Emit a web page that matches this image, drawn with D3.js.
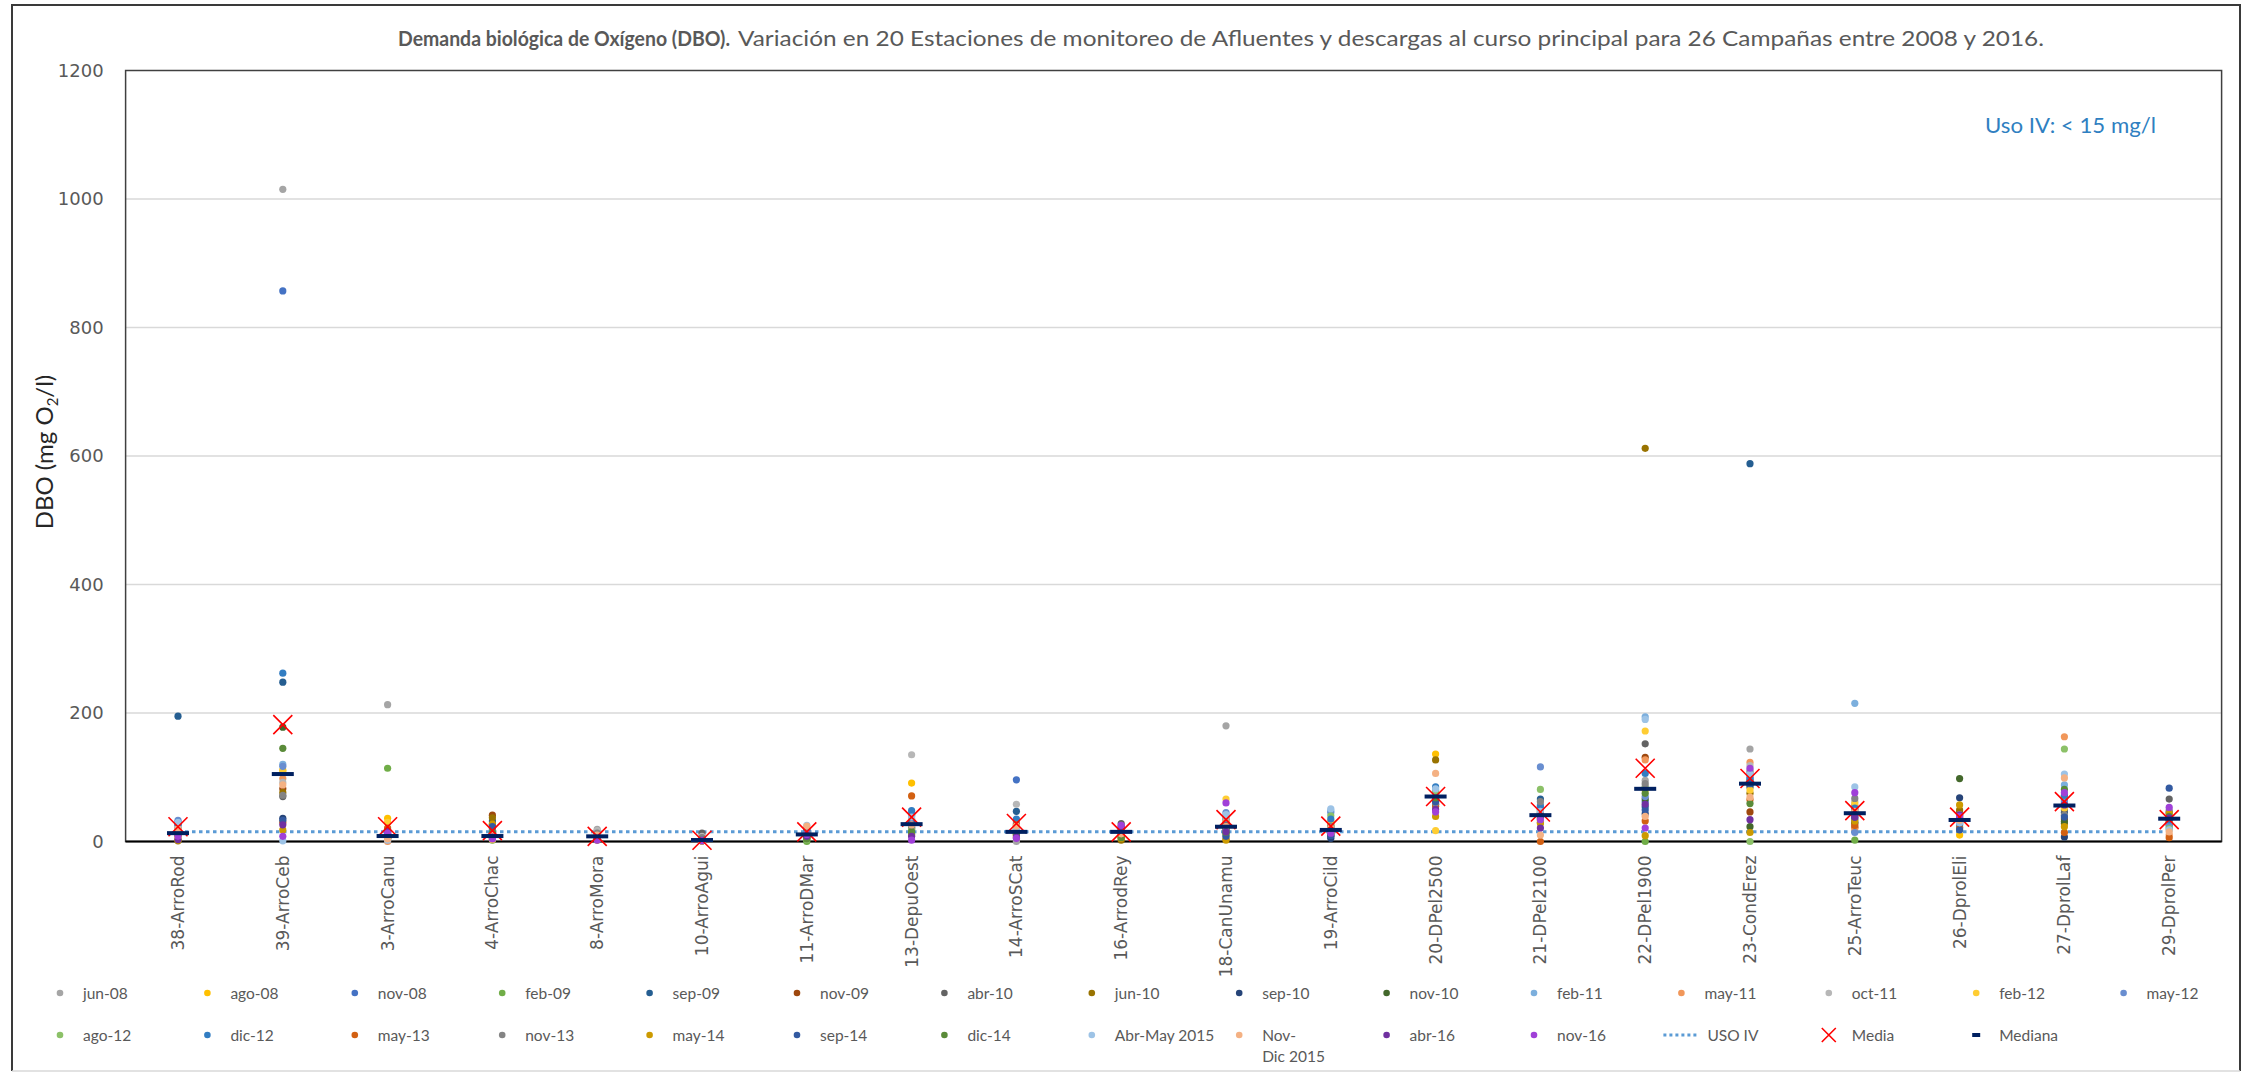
<!DOCTYPE html>
<html>
<head>
<meta charset="utf-8">
<script src="https://cdn.jsdelivr.net/npm/d3@7"></script>
<style>
  html, body { margin: 0; padding: 0; background: #fff; }
  svg { display: block; }
</style>
</head>
<body>
<svg id="chart" width="2249" height="1073"></svg>
<script>
// Monitoring stations (x categories)
const stations = ["38-ArroRod", "39-ArroCeb", "3-ArroCanu", "4-ArroChac", "8-ArroMora",
  "10-ArroAgui", "11-ArroDMar", "13-DepuOest", "14-ArroSCat", "16-ArrodRey",
  "18-CanUnamu", "19-ArroCild", "20-DPel2500", "21-DPel2100", "22-DPel1900",
  "23-CondErez", "25-ArroTeuc", "26-DprolEli", "27-DprolLaf", "29-DprolPer"];

// DBO (mg O2/l) per campaign, one value per station (null = no sample)
const jun08 = [12, 1015, 213, 10, 19, 2, 10, 30, 0, 15, 180, 20, 72, 40, 95, 144, 45, 35, 60, 40];
const ago08 = [8, 111, 36, 5, 6, 1, 8, 91, 12, 10, 30, 32, 136, 44, 80, 92, 40, 10, 55, 35];
const nov08 = [28, 857, 10, 8, 8, 3, 12, 22, 96, 20, 25, 15, 68, 38, 62, 100, 50, 30, 65, 30];
const feb09 = [15, null, 114, 2, 4, 2, 0, 18, 20, 12, 18, 25, 64, 48, 0, 88, 2, 28, 70, 25];
const sep09 = [195, 248, 8, 32, 10, 5, 15, 40, 47, 18, 35, 8, 75, 66, 54, 588, 30, 45, 45, 45];
const nov09 = [10, 82, 15, 41, 7, 1, 6, 27, 25, 14, 22, 18, 65, 35, 131, 46, 22, 38, 35, 28];
const abr10 = [14, 70, 6, 27, 12, 13, 18, 35, 18, 28, 28, 22, 70, 50, 152, 95, 55, 33, 49, 66];
const jun10 = [1, 76, 12, 37, 5, 2, 9, 20, 10, 2, 4, 12, 127, 30, 612, 75, 28, 49, 28, 33];
const sep10 = [20, 36, 5, 23, 3, 4, 11, 25, 14, 9, 20, 5, 58, 45, 43, 85, 35, 68, 7, 38];
const nov10 = [12, 178, 9, 12, 9, 1, 5, 12, 16, 7, 12, 10, 66, 42, 66, 23, 42, 98, 31, 36];
const feb11 = [25, 120, 4, 6, 8, 3, 20, 44, 22, 16, 40, 48, 80, 52, 194, 107, 215, 36, 88, 22];
const may11 = [18, 98, 0, 9, 6, 2, 14, 28, 31, 13, 32, 26, 74, 36, 127, 123, 20, 25, 163, 10];
const oct11 = [9, 92, 7, 4, 17, 8, 13, 135, 58, 22, 38, 30, 71, 57, 86, 118, 62, 40, 58, 42];
const feb12 = [6, 108, 30, 3, 4, 1, 7, 33, 9, 11, 66, 28, 17, 33, 172, 80, 59, 31, 52, 31];
const may12 = [33, 117, 18, 15, 11, 2, 16, 42, 28, 19, 45, 45, 77, 116, 70, 104, 14, 27, 62, 26];
const ago12 = [16, null, 10, 7, 5, 1, 3, 20, 15, 8, 10, 40, 79, 81, 84, 0, 48, 34, 144, 20];
const dic12 = [30, 262, 3, 20, 7, 3, 19, 48, 35, 17, 26, 35, 85, 55, 106, 97, 52, 22, 72, 34];
const may13 = [11, 30, 21, 11, 3, 2, 10, 71, 26, 15, 24, 16, 55, 0, 32, 65, 25, 20, 14, 6];
const nov13 = [13, 72, 8, 18, 13, 6, 12, 24, 17, 24, 19, 24, 60, 62, 90, 110, 67, 42, 41, 48];
const may14 = [2, 18, 5, 27, 2, 1, 6, 10, 6, 5, 2, 14, 39, 28, 9, 14, 32, 57, 23, 44];
const sep14 = [26, 33, 11, 23, 8, 2, 9, 30, 13, 14, 8, 9, 62, 39, 49, 90, 38, 18, 38, 83];
const dic14 = [14, 145, 7, 14, 6, 3, 4, 15, 11, 6, 14, 19, 68, 41, 75, 59, 44, 37, 81, 39];
const abrMay15 = [30, 1, 2, 5, 9, 2, 25, 38, 19, 20, 42, 51, 82, 47, 190, 105, 85, 29, 105, 18];
const novDic15 = [20, 88, 4, 9, 10, 1, 24, 26, 24, 12, 23, 21, 106, 10, 39, 69, 47, 33, 99, 15];
const abr16 = [3, 26, 16, 7, 3, 2, 8, 8, 7, 22, 15, 17, 50, 21, 58, 34, 38, 41, 57, 37];
const nov16 = [8, 8, 13, 4, 2, 1, 11, 2, 5, 25, 60, 13, 46, 34, 21, 114, 76, 39, 76, 53];

// Campaign names, in legend order
const campaignNames = ["jun-08", "ago-08", "nov-08", "feb-09", "sep-09", "nov-09", "abr-10", "jun-10",
  "sep-10", "nov-10", "feb-11", "may-11", "oct-11", "feb-12", "may-12", "ago-12", "dic-12", "may-13",
  "nov-13", "may-14", "sep-14", "dic-14", "Abr-May 2015", "Nov-Dic 2015", "abr-16", "nov-16"];
const campaignValues = [jun08, ago08, nov08, feb09, sep09, nov09, abr10, jun10, sep10, nov10, feb11,
  may11, oct11, feb12, may12, ago12, dic12, may13, nov13, may14, sep14, dic14, abrMay15, novDic15,
  abr16, nov16];

// Summary series per station
const media = [23, 182, 23, 17, 8, 2, 15, 38, 28, 15, 34, 24, 70, 46, 114, 98, 48, 38, 62, 34];
const mediana = [13, 105, 8.5, 8.5, 8, 2.3, 11, 27, 15, 15, 23, 18, 70, 41, 82, 90, 44, 33.5, 56, 35.5];

// Guide value for Uso IV
const usoIV = 15;

// Y axis ticks
const yTicks = [0, 200, 400, 600, 800, 1000, 1200];

// Marker colours for each campaign
const campaignColors = ["#A5A5A5", "#FFC000", "#4472C4", "#70AD47", "#255E91", "#9E480E", "#636363",
  "#997300", "#264478", "#43682B", "#7CAFDD", "#F1975A", "#B7B7B7", "#FFCD33", "#698ED0", "#8CC168",
  "#327DC2", "#D26012", "#848484", "#CC9A00", "#335AA1", "#5A8B39", "#9DC3E6", "#F4B183",
  "#7030A0", "#A040D8"];

const series = campaignNames.map((name, i) => ({ name, color: campaignColors[i], values: campaignValues[i] }));

const svg = d3.select("#chart");
const plot = { left: 125.6, right: 2221.6, top: 70.5, bottom: 841.5 };

const x = d3.scaleBand().domain(stations).range([plot.left, plot.right]);
const y = d3.scaleLinear().domain([0, 1200]).range([plot.bottom, plot.top]);
const cx = s => x(s) + x.bandwidth() / 2;

const textGray = "#595959";

// Outer chart frame
const frame = svg.append("g");
frame.append("path").attr("d", "M12,1071 L12,5 L2240,5 L2240,1071")
  .attr("fill", "none").attr("stroke", "#3a3a3a").attr("stroke-width", 2);
frame.append("line").attr("x1", 12).attr("x2", 2240).attr("y1", 1071).attr("y2", 1071)
  .attr("stroke", "#d9d9d9").attr("stroke-width", 1.5);

// Title
svg.append("text").attr("x", 398).attr("y", 46)
  .attr("font-family", "Lato, 'Open Sans', sans-serif").attr("font-size", 21).attr("font-weight", 700)
  .attr("fill", textGray).attr("textLength", 332).attr("lengthAdjust", "spacingAndGlyphs")
  .text("Demanda biológica de Oxígeno (DBO).");
svg.append("text").attr("x", 738).attr("y", 46)
  .attr("font-family", "Lato, 'Open Sans', sans-serif").attr("font-size", 21)
  .attr("fill", textGray).attr("textLength", 1306).attr("lengthAdjust", "spacingAndGlyphs")
  .text("Variación en 20 Estaciones de monitoreo de Afluentes y descargas al curso principal para 26 Campañas entre 2008 y 2016.");

// Gridlines
svg.append("g").selectAll("line").data(yTicks.filter(t => t > 0 && t < 1200)).join("line")
  .attr("x1", plot.left).attr("x2", plot.right)
  .attr("y1", d => y(d)).attr("y2", d => y(d))
  .attr("stroke", "#d9d9d9").attr("stroke-width", 1.5);

// Plot area border
svg.append("rect").attr("x", plot.left).attr("y", plot.top)
  .attr("width", plot.right - plot.left).attr("height", plot.bottom - plot.top)
  .attr("fill", "none").attr("stroke", "#404040").attr("stroke-width", 1.5);

// Y axis
const yAxis = svg.append("g").attr("transform", `translate(${plot.left},0)`)
  .call(d3.axisLeft(y).tickValues(yTicks).tickFormat(d3.format("d")).tickSize(0).tickPadding(22));
yAxis.select(".domain").remove();
yAxis.selectAll("text").attr("font-family", "'DejaVu Sans', Verdana, sans-serif")
  .attr("font-size", 18).attr("fill", textGray);

// Y axis title
const yTitle = svg.append("text")
  .attr("transform", "translate(53,452) rotate(-90)")
  .attr("text-anchor", "middle")
  .attr("font-family", "Lato, 'Open Sans', sans-serif").attr("font-size", 24).attr("fill", "#262626");
yTitle.append("tspan").text("DBO (mg O");
yTitle.append("tspan").attr("font-size", 15).attr("dy", 5).text("2");
yTitle.append("tspan").attr("dy", -5).text("/l)");

// X axis with rotated station labels
const xAxis = svg.append("g").attr("transform", `translate(0,${plot.bottom})`)
  .call(d3.axisBottom(x).tickSize(0).tickPadding(0));
xAxis.select(".domain").remove();
xAxis.selectAll("text")
  .attr("font-family", "'DejaVu Sans', Verdana, sans-serif").attr("font-size", 17).attr("fill", textGray)
  .attr("text-anchor", "end")
  .attr("dy", null)
  .attr("transform", "translate(6,14) rotate(-90)");
svg.append("line").attr("x1", plot.left).attr("x2", plot.right)
  .attr("y1", plot.bottom).attr("y2", plot.bottom)
  .attr("stroke", "#000").attr("stroke-width", 2);

// Uso IV guide line across the stations
svg.append("line")
  .attr("x1", cx(stations[0])).attr("x2", cx(stations[stations.length - 1]))
  .attr("y1", y(usoIV)).attr("y2", y(usoIV))
  .attr("stroke", "#5B9BD5").attr("stroke-width", 3).attr("stroke-dasharray", "3.5,3.5");

// Campaign points
const pts = svg.append("g");
series.forEach(s => {
  pts.append("g").selectAll("circle")
    .data(s.values.map((v, i) => ({ v, st: stations[i] })).filter(d => d.v !== null))
    .join("circle")
    .attr("cx", d => cx(d.st)).attr("cy", d => y(d.v)).attr("r", 3.6)
    .attr("fill", s.color);
});

// Mean markers (red X)
const xs = 9.5;
svg.append("g").selectAll("path").data(media).join("path")
  .attr("d", (d, i) => {
    const px = cx(stations[i]), py = y(d);
    return `M${px - xs},${py - xs}L${px + xs},${py + xs}M${px - xs},${py + xs}L${px + xs},${py - xs}`;
  })
  .attr("stroke", "#FF0000").attr("stroke-width", 1.6).attr("fill", "none");

// Median markers (navy bars)
svg.append("g").selectAll("rect").data(mediana).join("rect")
  .attr("x", (d, i) => cx(stations[i]) - 11).attr("y", d => y(d) - 2)
  .attr("width", 22).attr("height", 4).attr("fill", "#002060");

// Uso IV note
svg.append("text").attr("x", 1985).attr("y", 133)
  .attr("font-family", "Lato, 'Open Sans', sans-serif").attr("font-size", 21).attr("fill", "#2F7FC1")
  .attr("textLength", 171).attr("lengthAdjust", "spacingAndGlyphs")
  .text("Uso IV: < 15 mg/l");

// Legend: 15 columns, two rows
const legendItems = series.map(s => ({ type: "dot", name: s.name, color: s.color }))
  .concat([{ type: "line", name: "USO IV" }, { type: "x", name: "Media" }, { type: "bar", name: "Mediana" }]);
const colX = i => 60 + (i % 15) * 147.4;
const rowY = i => (i < 15 ? 993 : 1035);
const leg = svg.append("g");
legendItems.forEach((it, i) => {
  const mx = colX(i), my = rowY(i);
  const g = leg.append("g");
  if (it.type === "dot") {
    g.append("circle").attr("cx", mx).attr("cy", my).attr("r", 3.3).attr("fill", it.color);
  } else if (it.type === "line") {
    g.append("line").attr("x1", mx - 18).attr("x2", mx + 18).attr("y1", my).attr("y2", my)
      .attr("stroke", "#5B9BD5").attr("stroke-width", 3).attr("stroke-dasharray", "3,3");
  } else if (it.type === "x") {
    const s = 7;
    g.append("path").attr("d", `M${mx - s},${my - s}L${mx + s},${my + s}M${mx - s},${my + s}L${mx + s},${my - s}`)
      .attr("stroke", "#FF0000").attr("stroke-width", 1.6);
  } else {
    g.append("rect").attr("x", mx - 4).attr("y", my - 2).attr("width", 8).attr("height", 4).attr("fill", "#002060");
  }
  const t = g.append("text").attr("x", mx + (it.type === "line" ? 26 : 23)).attr("y", my + 5.5)
    .attr("font-family", "Lato, 'Open Sans', sans-serif").attr("font-size", 15.5).attr("fill", textGray);
  if (it.name === "Nov-Dic 2015") {
    t.append("tspan").attr("x", mx + 23).text("Nov-");
    t.append("tspan").attr("x", mx + 23).attr("dy", 21).text("Dic 2015");
  } else {
    t.text(it.name);
  }
});
</script>
</body>
</html>
